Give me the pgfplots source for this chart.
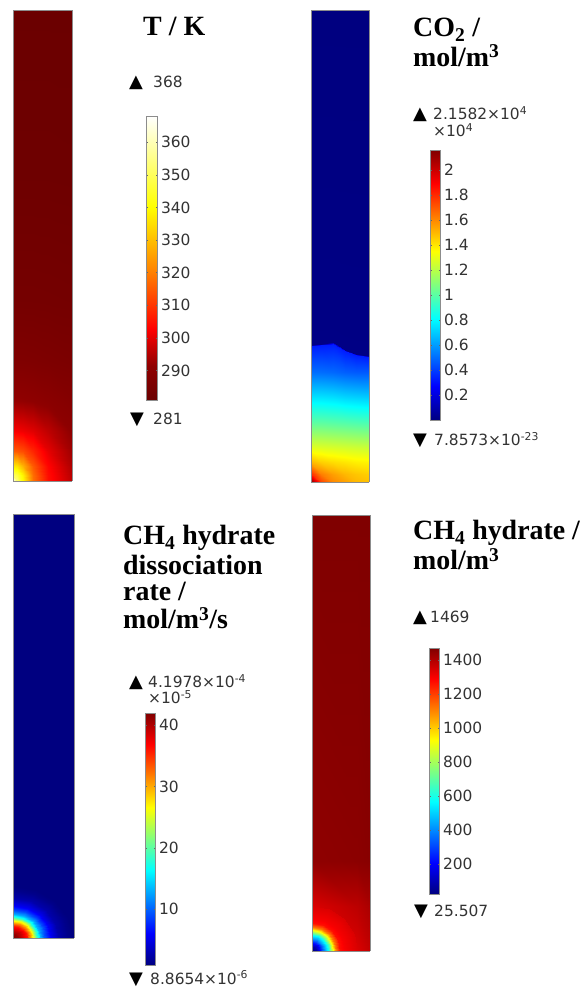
\documentclass[border=0pt]{standalone}
\usepackage{pgfplots}
\pgfplotsset{compat=1.18}
\usepackage{fontspec}
\setmainfont{DejaVu Sans}
\newfontfamily\ttl{Liberation Serif}
\newcommand\tf{\fontsize{15.5}{18}\selectfont}
\newcommand\titlef{\ttl\bfseries\fontsize{28}{28}\selectfont}
\newcommand\trif{\fontsize{18}{18}\selectfont}
\pgfplotsset{
  colormap={tmap}{rgb(0pt)=(0.42,0,0); rgb(12pt)=(0.56,0,0); rgb(25pt)=(1,0,0); rgb(45pt)=(1,0.5,0); rgb(68pt)=(1,1,0); rgb(100pt)=(1,1,1)},
  panel/.style={scale only axis, anchor=south west, view={0}{90}, enlargelimits=false,
    xtick=\empty, ytick=\empty, ztick=\empty,
    axis line style={black!45, line width=0.6bp}, colorbar},
  cbs/.style={colorbar style={anchor=south west, scale only axis, width=10bp,
    yticklabel style={font=\tf, text=black!80},
    major tick length=1.5bp, tick style={black!60, line width=0.4bp},
    axis line style={black!45, line width=0.5bp}, scaled y ticks=false}},
}
\begin{document}
\begin{tikzpicture}
\fill[white] (0,0) rectangle (585bp,988bp);
\path[use as bounding box] (0,0) rectangle (585bp,988bp);
\coordinate (cb1) at (138bp,588bp);
\coordinate (cb2) at (422bp,568bp);
\coordinate (cb3) at (137bp,23bp);
\coordinate (cb4) at (421bp,94bp);

% ---------------- Panel 1: temperature
\begin{axis}[panel, at={(13bp,507bp)}, width=59bp, height=471bp,
  xmin=0, xmax=59, ymin=0, ymax=471,
  colormap name=tmap, point meta min=281, point meta max=368, cbs,
  colorbar style={at={(cb1)}, width=11bp, height=284bp,
    ytick={290,300,310,320,330,340,350,360},
    yticklabels={290,300,310,320,330,340,350,360}}]
\addplot3[surf, shader=interp, point meta=z] table {
x y z
0 0 368
4 0 352
10 0 339.5
20 0 318
35 0 304.5
59 0 296

0 6 350.7
4 6 347.3
10 6 337.8
20 6 317.5
35 6 304.3
59 6 295.5

0 15 336.9
4 15 335.6
10 15 328
20 15 314.9
35 15 303.2
59 15 294.5

0 30 314.9
4 30 314.6
10 30 312.8
20 30 307.6
35 30 300.2
59 30 293

0 50 302.1
4 50 301.9
10 50 301.1
20 50 299.6
35 50 296.2
59 50 291

0 80 292
4 80 292
10 80 291.8
20 80 291.3
35 80 290.2
59 80 288.5

0 120 287
4 120 287
10 120 287
20 120 286.8
35 120 286.4
59 120 285.8

0 180 284
4 180 284
10 180 284
20 180 284
35 180 283.9
59 180 283.7

0 300 282
4 300 282
10 300 282
20 300 282
35 300 282
59 300 281.9

0 471 281
4 471 281
10 471 281
20 471 281
35 471 281
59 471 281
};
\end{axis}

% ---------------- Panel 2: CO2 (x10^4 mol/m3)
\begin{axis}[panel, at={(311bp,506bp)}, width=58bp, height=472bp,
  xmin=0, xmax=58, ymin=0, ymax=472,
  colormap/jet, point meta min=0, point meta max=2.1582, cbs,
  colorbar style={at={(cb2)}, height=270bp,
    ytick={0.2,0.4,0.6,0.8,1,1.2,1.4,1.6,1.8,2},
    yticklabels={0.2,0.4,0.6,0.8,1,1.2,1.4,1.6,1.8,2}}]
\addplot3[surf, shader=interp, point meta=z] table {
x y z
0 0 2.1582
10 0 1.75
22 0 1.6
34 0 1.55
45 0 1.5
58 0 1.48

0 8 1.8
10 8 1.62
22 8 1.55
34 8 1.5
45 8 1.47
58 8 1.45

0 20 1.5
10 20 1.45
22 20 1.42
34 20 1.40
45 20 1.38
58 20 1.37

0 35 1.28
10 35 1.27
22 35 1.26
34 35 1.25
45 35 1.24
58 35 1.23

0 60 1.0
10 60 1.0
22 60 0.99
34 60 0.98
45 60 0.97
58 60 0.96

0 85 0.75
10 85 0.75
22 85 0.74
34 85 0.72
45 85 0.71
58 85 0.70

0 110 0.5
10 110 0.5
22 110 0.49
34 110 0.47
45 110 0.46
58 110 0.46

0 135.5 0.33
10 136.5 0.33
22 138 0.33
34 130.5 0.33
45 126.5 0.33
58 124.5 0.33

0 137 0.01
10 138 0.01
22 139.5 0.01
34 132 0.01
45 128 0.01
58 126 0.01

0 472 0
10 472 0
22 472 0
34 472 0
45 472 0
58 472 0
};
\end{axis}

% ---------------- Panel 3: dissociation rate (x10^-5)
\begin{axis}[panel, at={(13bp,50bp)}, width=61bp, height=424bp,
  xmin=0, xmax=61, ymin=0, ymax=424,
  colormap/jet, point meta min=0.88654, point meta max=41.978, cbs,
  colorbar style={at={(cb3)}, height=252bp,
    ytick={10,20,30,40}, yticklabels={10,20,30,40}}]
\addplot3[surf, shader=interp, point meta=z] table {
x y z
0 0 0.88654
61 0 0.88654

0 424 0.88654
61 424 0.88654
};
\addplot3[surf, shader=interp, point meta=z] table {
x y z
0 0 41.978
0 0 41.978
0 0 41.978
0 0 41.978
0 0 41.978

4.6 0 41
4.25 1.53 41
3.25 2.83 41
1.76 3.70 41
0 4 41

9.2 0 39
8.5 3.06 39
6.51 5.66 39
3.52 7.39 39
0 8 39

13.8 0 36
12.75 4.59 36
9.76 8.49 36
5.28 11.09 36
0 12 36

17.25 0 31
15.94 5.74 31
12.2 10.61 31
6.6 13.86 31
0 15 31

20.7 0 25
19.13 6.89 25
14.64 12.73 25
7.92 16.63 25
0 18 25

24.15 0 18.5
22.31 8.04 18.5
17.08 14.85 18.5
9.24 19.4 18.5
0 21 18.5

27.6 0 13
25.5 9.18 13
19.52 16.97 13
10.56 22.17 13
0 24 13

32.2 0 9
29.75 10.72 9
22.77 19.8 9
12.32 25.87 9
0 28 9

37.95 0 5.5
35.06 12.63 5.5
26.84 23.33 5.5
14.52 30.49 5.5
0 33 5.5

46 0 2.6
42.5 15.31 2.6
32.53 28.28 2.6
17.6 36.96 2.6
0 40 2.6

55.2 0 1.3
51 18.37 1.3
39.03 33.94 1.3
21.12 44.35 1.3
0 48 1.3

59.8 0 0.88654
55.25 19.9 0.88654
42.29 36.77 0.88654
22.89 48.04 0.88654
0 52 0.88654
};
\end{axis}

% ---------------- Panel 4: CH4 hydrate
\begin{axis}[panel, at={(312bp,37bp)}, width=58bp, height=436bp,
  xmin=0, xmax=58, ymin=0, ymax=436,
  colormap/jet, point meta min=25.507, point meta max=1469, cbs,
  colorbar style={at={(cb4)}, height=246bp,
    ytick={200,400,600,800,1000,1200,1400},
    yticklabels={200,400,600,800,1000,1200,1400}}]
\addplot3[surf, shader=interp, point meta=z] table {
x y z
0 0 1340
45 0 1340
58 0 1375

0 45 1340
45 45 1385
58 45 1410

0 90 1448
45 90 1453
58 90 1458

0 436 1469
45 436 1469
58 436 1469
};
\addplot3[surf, shader=interp, point meta=z] table {
x y z
0 0 25.507
0 0 25.507
0 0 25.507
0 0 25.507
0 0 25.507

4 0 80
3.70 1.53 80
2.83 2.83 80
1.53 3.70 80
0 4 80

8 0 210
7.39 3.06 210
5.66 5.66 210
3.06 7.39 210
0 8 210

12 0 400
11.09 4.59 400
8.49 8.49 400
4.59 11.09 400
0 12 400

16 0 580
14.78 6.12 580
11.31 11.31 580
6.12 14.78 580
0 16 580

20 0 850
18.48 7.65 850
14.14 14.14 850
7.65 18.48 850
0 20 850

24 0 1120
22.17 9.18 1120
16.97 16.97 1120
9.18 22.17 1120
0 24 1120

28 0 1270
25.87 10.72 1270
19.80 19.80 1270
10.72 25.87 1270
0 28 1270

33 0 1300
30.49 12.63 1300
23.33 23.33 1300
12.63 30.49 1300
0 33 1300

39 0 1320
36.03 14.93 1320
27.58 27.58 1320
14.93 36.03 1320
0 39 1320

45 0 1340
41.58 17.22 1340
31.82 31.82 1340
17.22 41.58 1340
0 45 1340
};
\end{axis}

% ---------------- titles
\begin{scope}[every node/.style={anchor=base west, inner sep=0pt, font=\titlef}]
\node at (143bp,952bp) {T / K};
\node at (413bp,951bp) {CO\textsubscript{2} /};
\node at (413bp,921bp) {mol/m\textsuperscript{3}};
\node at (123bp,443bp) {CH\textsubscript{4} hydrate};
\node at (123bp,413bp) {dissociation};
\node at (123bp,387bp) {rate /};
\node at (123bp,359bp) {mol/m\textsuperscript{3}/s};
\node at (413bp,448bp) {CH\textsubscript{4} hydrate /};
\node at (413bp,418bp) {mol/m\textsuperscript{3}};
\end{scope}

% ---------------- max / min markers
\begin{scope}[every node/.style={anchor=base west, inner sep=0pt}]
\node[font=\trif] at (129bp,900bp) {▲};
\node[font=\tf, text=black!80] at (153bp,900bp) {368};
\node[font=\trif] at (130bp,563bp) {▼};
\node[font=\tf, text=black!80] at (153bp,563bp) {281};

\node[font=\trif] at (413bp,868bp) {▲};
\node[font=\tf, text=black!80] at (433bp,868bp) {2.1582×10\textsuperscript{4}};
\node[font=\tf, text=black!80] at (433bp,851bp) {×10\textsuperscript{4}};
\node[font=\trif] at (413bp,542bp) {▼};
\node[font=\tf, text=black!80] at (434bp,542bp) {7.8573×10\textsuperscript{-23}};

\node[font=\trif] at (129bp,300bp) {▲};
\node[font=\tf, text=black!80] at (148bp,300bp) {4.1978×10\textsuperscript{-4}};
\node[font=\tf, text=black!80] at (148bp,284bp) {×10\textsuperscript{-5}};
\node[font=\trif] at (129bp,4bp) {▼};
\node[font=\tf, text=black!80] at (150bp,4bp) {8.8654×10\textsuperscript{-6}};

\node[font=\trif] at (413bp,365bp) {▲};
\node[font=\tf, text=black!80] at (430bp,365bp) {1469};
\node[font=\trif] at (414bp,71bp) {▼};
\node[font=\tf, text=black!80] at (434bp,71bp) {25.507};
\end{scope}
\end{tikzpicture}
\end{document}
